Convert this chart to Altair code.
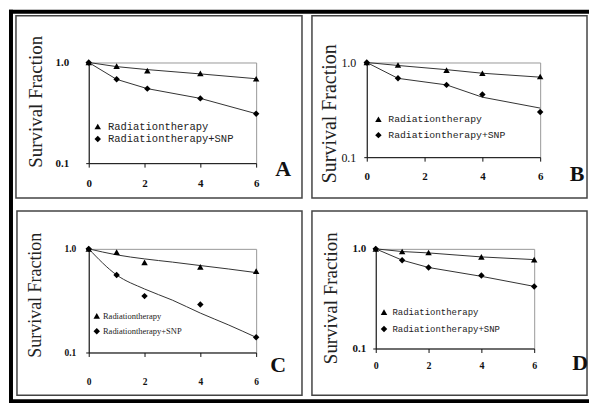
import altair as alt
import pandas as pd

SERIES = ["Radiationtherapy", "Radiationtherapy+SNP"]
X_TICKS = [0, 2, 4, 6]
Y_TICKS = [0.1, 1.0]
Y_TITLE = "Survival Fraction"

# Panel A
a_dose = [0, 1, 2.1, 4, 6]
a_rt = [1.0, 0.92, 0.83, 0.78, 0.69]
a_snp = [1.0, 0.68, 0.55, 0.44, 0.31]
a_fit_dose = [0, 1, 2.1, 4, 6]
a_fit_rt = [1.0, 0.91, 0.85, 0.77, 0.69]
a_fit_snp = [1.0, 0.68, 0.55, 0.44, 0.31]

# Panel B
b_dose = [0, 1.08, 2.76, 4, 6]
b_rt = [1.0, 0.94, 0.83, 0.77, 0.71]
b_snp = [1.0, 0.68, 0.58, 0.46, 0.30]
b_fit_dose = [0, 1.08, 2.76, 4, 6]
b_fit_rt = [1.0, 0.93, 0.84, 0.77, 0.70]
b_fit_snp = [1.0, 0.68, 0.58, 0.43, 0.33]

# Panel C
c_dose = [0, 1, 2, 4, 6]
c_rt = [1.0, 0.93, 0.74, 0.67, 0.61]
c_snp = [1.0, 0.56, 0.35, 0.29, 0.14]
c_fit_dose = [0, 1, 2, 3, 4, 5, 6]
c_fit_rt = [1.0, 0.875, 0.80, 0.745, 0.69, 0.64, 0.59]
c_fit_snp = [1.0, 0.56, 0.41, 0.32, 0.24, 0.185, 0.14]

# Panel D
d_dose = [0, 1, 2, 4, 6]
d_rt = [1.0, 0.94, 0.92, 0.83, 0.78]
d_snp = [1.0, 0.77, 0.65, 0.54, 0.42]
d_fit_dose = [0, 1, 2, 4, 6]
d_fit_rt = [1.0, 0.94, 0.91, 0.83, 0.78]
d_fit_snp = [1.0, 0.77, 0.65, 0.53, 0.42]

INK = "#111"


def table(dose, rt, snp):
    return pd.DataFrame({
        "dose": list(dose) + list(dose),
        "sf": list(rt) + list(snp),
        "series": [SERIES[0]] * len(dose) + [SERIES[1]] * len(dose),
    })


def one():
    return alt.Data(values=[{"k": 0}])


def panel(letter, pts, fit, w, h, c, extra=()):
    x = alt.X("dose:Q", scale=alt.Scale(domain=[0, 6], nice=False, zero=False),
              axis=alt.Axis(values=X_TICKS, title=None, grid=False,
                            labelFont="Liberation Serif", labelFontWeight="bold",
                            labelFontSize=c["xfs"], labelColor=INK, domainColor=INK,
                            tickColor=INK, tickSize=4, labelPadding=c["xpad"],
                            labelFlush=False))
    y = alt.Y("sf:Q", scale=alt.Scale(type="log", domain=[0.1, 1], nice=False),
              axis=alt.Axis(values=Y_TICKS, format=".1f", title=Y_TITLE, grid=False,
                            labelFont="Liberation Serif", labelFontWeight=c["ywt"],
                            labelFontSize=c["yfs"], labelColor=INK, domainColor=INK,
                            tickColor=INK, tickSize=3, labelPadding=c["ypad"],
                            labelFlush=False,
                            titleFont="Liberation Serif", titleFontWeight="normal",
                            titleFontSize=c["tfs"], titleColor="#222", titleAngle=270,
                            titleAlign="center", titleBaseline="middle",
                            titleX=c["tx"], titleY=c["ty"]))
    lines = alt.Chart(fit).mark_line(color="#333", strokeWidth=1,
                                     interpolate=c.get("interp", "linear")).encode(
        x=x, y=y, detail="series:N")
    points = alt.Chart(pts).mark_point(filled=True, color="black", opacity=1, size=42).encode(
        x=x, y=y,
        shape=alt.Shape("series:N",
                        scale=alt.Scale(domain=SERIES, range=["triangle-up", "diamond"]),
                        legend=alt.Legend(orient="none", legendX=c["lx"], legendY=c["ly"],
                                          title=None, padding=0, labelFont=c["lfont"],
                                          labelFontSize=c["lfs"], labelColor="#222",
                                          rowPadding=c["lrow"], labelOffset=c["loff"],
                                          labelLimit=400, symbolSize=42,
                                          symbolFillColor="black", symbolStrokeColor="black",
                                          symbolStrokeWidth=0)))
    fx0, fx1, fy0, fy1 = c["frame"]
    frame = alt.Chart(one()).mark_rect(fillOpacity=0, stroke="#444", strokeWidth=1.5).encode(
        x=alt.value(fx0), x2=alt.value(fx1), y=alt.value(fy0), y2=alt.value(fy1))
    lx, ly = c["letter"]
    tag = alt.Chart(one()).mark_text(font="Liberation Serif", fontWeight="bold", fontSize=22,
                                     color=INK, align="center", baseline="middle").encode(
        x=alt.value(lx), y=alt.value(ly), text=alt.value(letter))
    return alt.layer(frame, *extra, lines, points, tag).properties(width=w, height=h)


def strip(x0, x1, y0, y1):
    return alt.Chart(one()).mark_rect(color="black").encode(
        x=alt.value(x0), x2=alt.value(x1), y=alt.value(y0), y2=alt.value(y1))


border = (strip(-80, -76, -53, 342), strip(-80, 502, -53, -49), strip(-80, 502, 338, 342))

pA = panel("A", table(a_dose, a_rt, a_snp), table(a_fit_dose, a_fit_rt, a_fit_snp), 168, 101,
           dict(xfs=11, xpad=10, ywt="bold", yfs=11, ypad=17, tfs=19, tx=-53, ty=39,
                lx=3.8, ly=59, lfont="Liberation Mono", lfs=10.5, lrow=1.5, loff=5,
                frame=(-73, 214, -47, 136), letter=(195, 107)),
           extra=border)
pB = panel("B", table(b_dose, b_rt, b_snp), table(b_fit_dose, b_fit_rt, b_fit_snp), 174, 95,
           dict(xfs=11, xpad=9, ywt="normal", yfs=12, ypad=8, tfs=20, tx=-37, ty=51,
                lx=6.8, ly=52, lfont="Liberation Mono", lfs=9.8, lrow=5, loff=5,
                frame=(-55, 221, -47, 136), letter=(211, 112)))
pC = panel("C", table(c_dose, c_rt, c_snp), table(c_fit_dose, c_fit_rt, c_fit_snp), 168, 104,
           dict(xfs=9.5, xpad=20, ywt="bold", yfs=9.5, ypad=10, tfs=18, tx=-53, ty=46,
                lx=3.8, ly=63, lfont="Liberation Serif", lfs=8.5, lrow=6.5, loff=2,
                frame=(-72, 214, -38, 147), letter=(190, 117), interp="monotone"))
pD = panel("D", table(d_dose, d_rt, d_snp), table(d_fit_dose, d_fit_rt, d_fit_snp), 159, 100,
           dict(xfs=10, xpad=8, ywt="bold", yfs=11, ypad=7, tfs=19, tx=-45, ty=49,
                lx=3.8, ly=59, lfont="Liberation Mono", lfs=9, lrow=7, loff=4,
                frame=(-64, 212, -38, 147), letter=(205, 115)))

row1 = alt.hconcat(pA, pB, spacing=111, bounds="flush").resolve_scale(
    x="independent", y="independent", shape="independent").resolve_legend(shape="independent")
row2 = alt.hconcat(pC, pD, spacing=120, bounds="flush").resolve_scale(
    x="independent", y="independent", shape="independent").resolve_legend(shape="independent")

chart = alt.vconcat(row1, row2, spacing=187, bounds="flush").resolve_scale(
    x="independent", y="independent", shape="independent").resolve_legend(
    shape="independent").properties(padding=0, background="white").configure_view(
    stroke="#999", strokeWidth=1)

chart.save("out.html", embed_options={"renderer": "svg", "actions": False})
